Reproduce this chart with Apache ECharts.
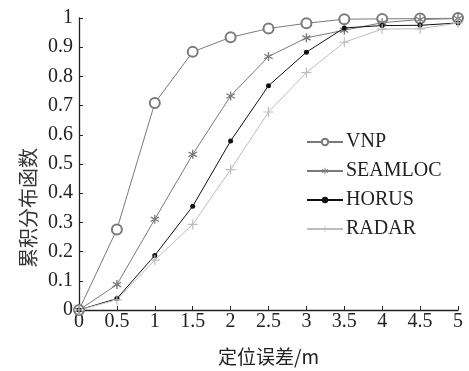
<!DOCTYPE html>
<html><head><meta charset="utf-8">
<script src="https://cdn.jsdelivr.net/npm/echarts@6/dist/echarts.min.js"></script>
<style>html,body{margin:0;padding:0;background:#fff}#c{width:469px;height:371px}</style>
</head><body><div id="c"></div>
<script>
var xValues = [0, 0.5, 1, 1.5, 2, 2.5, 3, 3.5, 4, 4.5, 5];
var vnp     = [0, 0.276, 0.709, 0.884, 0.934, 0.964, 0.982, 0.996, 0.997, 0.998, 1.0];
var seamloc = [0, 0.087, 0.311, 0.533, 0.733, 0.868, 0.932, 0.958, 0.984, 0.995, 0.998];
var horus   = [0, 0.039, 0.187, 0.355, 0.579, 0.768, 0.883, 0.966, 0.974, 0.975, 0.983];
var radar   = [0, 0.035, 0.171, 0.293, 0.481, 0.678, 0.813, 0.917, 0.962, 0.963, 0.983];
var seriesNames = ['VNP', 'SEAMLOC', 'HORUS', 'RADAR'];
var xTicks = ['0','0.5','1','1.5','2','2.5','3','3.5','4','4.5','5'];

function pairs(arr){ return arr.map(function(v,i){ return [xValues[i], v]; }); }
var plusPath = 'path://M4.4,0H5.6V4.4H10V5.6H5.6V10H4.4V5.6H0V4.4H4.4Z';
var starPath = 'path://M4.3,0H5.7V3.8L9,1.9L9.7,3.1L6.4,5L9.7,6.9L9,8.1L5.7,6.2V10H4.3V6.2L1,8.1L0.3,6.9L3.6,5L0.3,3.1L1,1.9L4.3,3.8Z';
var serif = '"Liberation Serif", "DejaVu Serif", serif';

var chart = echarts.init(document.getElementById('c'));
chart.setOption({
  animation: false,
  backgroundColor: '#fff',
  grid: {left: 79, right: 11, top: 18, bottom: 54},
  legend: {
    orient: 'vertical', left: 301, top: 127, itemGap: 9, itemWidth: 36, itemHeight: 8,
    textStyle: {fontFamily: serif, fontSize: 20, color: '#222', padding: [0,0,0,-2]},
    data: seriesNames
  },
  xAxis: {
    type: 'value', min: 0, max: 5, interval: 0.5,
    axisLine: {show: true, onZero: false, lineStyle: {color: '#222', width: 1.3}},
    axisTick: {show: true, inside: true, length: 4, lineStyle: {color: '#222'}},
    splitLine: {show: false},
    axisLabel: {fontFamily: serif, fontSize: 20, color: '#222', margin: 2,
      formatter: function(v){ var i = Math.round(v*2); return xTicks[i]; }},
    name: '定位误差/m', nameLocation: 'middle', nameGap: 37,
    nameTextStyle: {fontFamily: '"Noto Sans CJK SC", serif', fontSize: 19, color: '#222'}
  },
  yAxis: {
    type: 'value', min: 0, max: 1, interval: 0.1,
    axisLine: {show: true, onZero: false, lineStyle: {color: '#222', width: 1.3}},
    axisTick: {show: true, inside: true, length: 4, lineStyle: {color: '#222'}},
    splitLine: {show: false},
    axisLabel: {fontFamily: serif, fontSize: 20, color: '#222', margin: 6,
      formatter: function(v){ return v === 0 ? '0' : (v === 1 ? '1' : v.toFixed(1)); }}
  },
  graphic: [{
    type: 'text', left: 18, top: 148, rotation: Math.PI/2,
    style: {text: '累积分布函数', font: '20px "Noto Sans CJK SC"', fill: '#333'}
  }],
  series: [
    {name: 'VNP', type: 'line', data: pairs(vnp), symbol: 'emptyCircle', symbolSize: 10,
     lineStyle: {color: '#7a7a7a', width: 1}, itemStyle: {color: '#7a7a7a', borderWidth: 1}},
    {name: 'SEAMLOC', type: 'line', data: pairs(seamloc), symbol: starPath, symbolSize: 9,
     lineStyle: {color: '#7a7a7a', width: 1}, itemStyle: {color: '#7a7a7a'}},
    {name: 'HORUS', type: 'line', data: pairs(horus), symbol: 'circle', symbolSize: 5,
     lineStyle: {color: '#111', width: 1}, itemStyle: {color: '#111'}},
    {name: 'RADAR', type: 'line', data: pairs(radar), symbol: plusPath, symbolSize: 10,
     lineStyle: {color: '#bdbdbd', width: 1}, itemStyle: {color: '#bdbdbd'}}
  ]
});
</script></body></html>
